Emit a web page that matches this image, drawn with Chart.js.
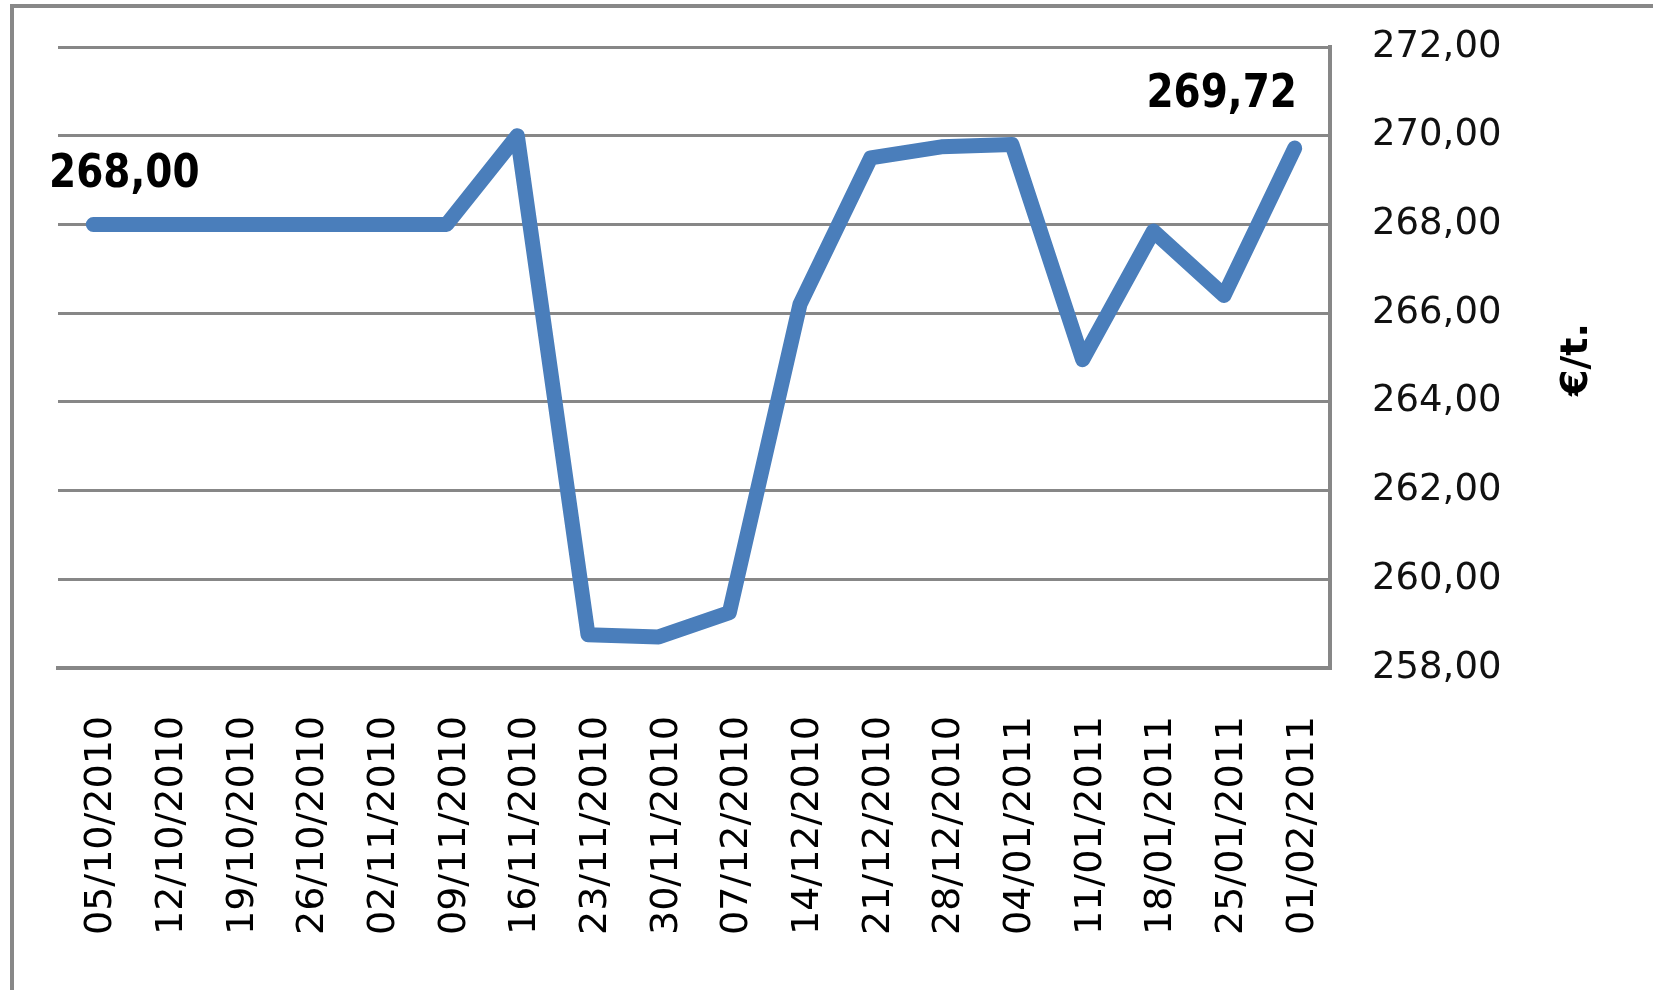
<!DOCTYPE html>
<html>
<head>
<meta charset="utf-8">
<script src="https://cdn.jsdelivr.net/npm/chart.js@4.4.1/dist/chart.umd.min.js"></script>
<style>
  html, body { margin: 0; padding: 0; background: #fff; overflow: hidden; }
  #wrap { position: relative; width: 1653px; height: 990px; }
  #frame {
    position: absolute; left: 10px; top: 4px; width: 1700px; height: 1100px;
    border-left: 4px solid #888; border-top: 4px solid #888; pointer-events: none;
  }
  canvas { position: absolute; left: 0; top: 0; }
</style>
</head>
<body>
<div id="wrap">
  <canvas id="price" width="1653" height="990"></canvas>
  <div id="frame"></div>
</div>
<script>
"use strict";

// weekly price, €/t.
const dates = [
    '05/10/2010', '12/10/2010', '19/10/2010', '26/10/2010', '02/11/2010', '09/11/2010',
    '16/11/2010', '23/11/2010', '30/11/2010', '07/12/2010', '14/12/2010', '21/12/2010',
    '28/12/2010', '04/01/2011', '11/01/2011', '18/01/2011', '25/01/2011', '01/02/2011'
];
const prices = [
    268.00, 268.00, 268.00, 268.00, 268.00, 268.00,
    270.00, 258.75, 258.70, 259.25, 266.20, 269.50,
    269.75, 269.80, 264.95, 267.85, 266.40, 269.72
];
const yTicks = [258, 260, 262, 264, 266, 268, 270, 272];
const labelled = [0, 17];
const unitTitle = '€/t.';

const fmt = v => v.toFixed(2).replace('.', ',');

// value labels on first and last point, plus the rotated unit title
const extras = {
    id: 'extras',
    afterDatasetsDraw(chart) {
        const ctx = chart.ctx;
        const meta = chart.getDatasetMeta(0);
        const offsets = { 0: [31, -50], 17: [-73, -53] };
        ctx.save();
        ctx.fillStyle = '#000';
        ctx.font = 'bold 39px "DejaVu Sans"';
        ctx.textAlign = 'center';
        ctx.textBaseline = 'middle';
        labelled.forEach(i => {
            const pt = meta.data[i];
            const off = offsets[i];
            ctx.save();
            ctx.translate(pt.x + off[0], pt.y + off[1]);
            ctx.scale(1, 1.2);
            ctx.fillText(fmt(prices[i]), 0, 0);
            ctx.restore();
        });

        const y = chart.scales.y;
        ctx.font = 'bold 38px "DejaVu Sans"';
        ctx.translate(y.right - 76, (y.top + y.bottom) / 2 + 2);
        ctx.rotate(-Math.PI / 2);
        ctx.fillText(unitTitle, 0, 0);
        ctx.restore();
    }
};

const el = document.getElementById('price');

new Chart(el, {
    type: 'line',
    data: {
        labels: dates,
        datasets: [{
            data: prices,
            borderColor: '#4a7ebb',
            borderWidth: 15,
            borderCapStyle: 'round',
            borderJoinStyle: 'round',
            pointRadius: 0,
            tension: 0,
            fill: false
        }]
    },
    plugins: [extras],
    options: {
        responsive: false,
        animation: false,
        devicePixelRatio: 1,
        layout: { padding: { left: 58, top: 47, right: 0, bottom: 0 } },
        plugins: {
            legend: { display: false },
            tooltip: { enabled: false }
        },
        scales: {
            x: {
                offset: true,
                grid: { display: false },
                border: { display: true, color: '#878787', width: 4 },
                ticks: {
                    minRotation: 90,
                    maxRotation: 90,
                    autoSkip: false,
                    padding: 40,
                    labelOffset: 8,
                    color: '#000',
                    font: { family: 'DejaVu Sans', size: 38 }
                },
                afterFit(scale) {
                    scale.height = 322;
                    scale.paddingLeft = 0;
                    scale.paddingRight = 0;
                }
            },
            y: {
                position: 'right',
                min: yTicks[0],
                max: yTicks[yTicks.length - 1],
                afterBuildTicks(scale) {
                    scale.ticks = yTicks.map(v => ({ value: v }));
                },
                grid: { color: '#878787', lineWidth: 3, drawTicks: false },
                border: { display: true, color: '#878787', width: 4 },
                ticks: {
                    padding: 42,
                    color: '#111',
                    font: { family: 'DejaVu Sans', size: 37 },
                    callback: v => fmt(v)
                },
                afterFit(scale) {
                    scale.width = 323;
                    scale.paddingTop = 0;
                    scale.paddingBottom = 0;
                }
            }
        }
    }
});
</script>
</body>
</html>
